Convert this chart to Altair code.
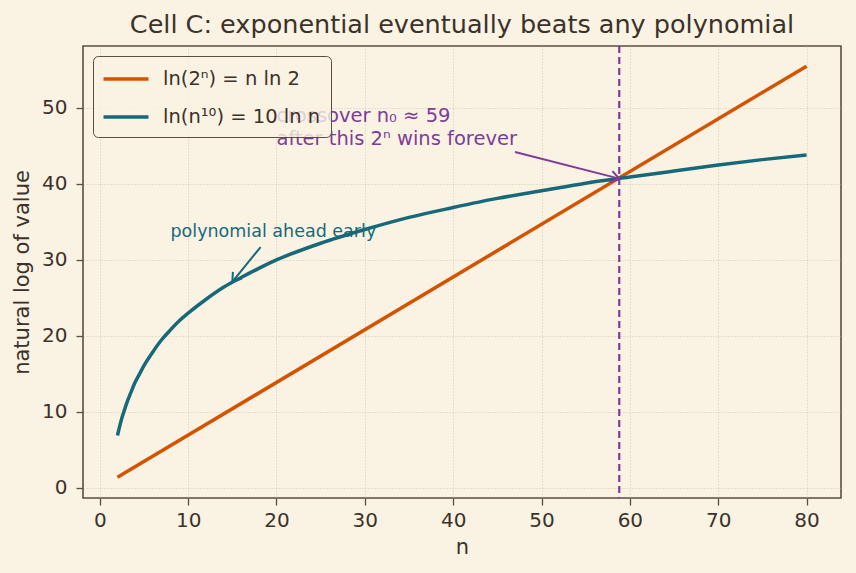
import altair as alt
import pandas as pd

# ---- data ----
series_names = ["ln(2ⁿ) = n ln 2", "ln(n¹⁰) = 10 ln n"]
n_exp = [2, 80]
exp_vals = [1.4, 55.5]
n_poly = [2, 2.25, 2.5, 2.75, 3, 3.5, 4, 4.5, 5, 6, 7, 8, 9, 10, 12, 14, 16, 18, 20,
          25, 30, 35, 40, 45, 50, 55, 60, 65, 70, 75, 80]
poly_vals = [6.9, 8.1, 9.2, 10.1, 11.0, 12.5, 13.9, 15.0, 16.1, 17.9, 19.5, 20.8, 22.0, 23.0,
             24.8, 26.4, 27.7, 28.9, 30.0, 32.2, 34.0, 35.6, 36.9, 38.1, 39.1, 40.1, 40.9,
             41.7, 42.5, 43.2, 43.8]
n0 = 58.8
cross_y = 40.7

ann_text = ["polynomial ahead early", "crossover  n₀ ≈ 59", "after this 2ⁿ wins forever"]
ann_x = [8, 20, 20]
ann_y = [33, 48.2, 45.1]
ann_kind = ["poly", "cross", "cross"]

arrow_x = [18.2, 47.0]
arrow_y = [31.7, 44.2]
arrow_x2 = [15.0, n0]
arrow_y2 = [27.1, cross_y]
arrow_angle = [217, 104]
arrow_kind = ["poly", "cross"]

BG = "#faf3e4"
FRAME = "#5a4e40"
TEXT = "#3b3229"
ORANGE = "#d35400"
TEAL = "#17697a"
PURPLE = "#7d3c98"
FONT = "DejaVu Sans"

lines = pd.DataFrame(
    {"n": n_exp + n_poly,
     "v": exp_vals + poly_vals,
     "series": [series_names[0]] * len(n_exp) + [series_names[1]] * len(n_poly)}
)
ann = pd.DataFrame({"x": ann_x, "y": ann_y, "t": ann_text, "k": ann_kind})
arr = pd.DataFrame({"x": arrow_x, "y": arrow_y, "x2": arrow_x2, "y2": arrow_y2,
                    "a": arrow_angle, "k": arrow_kind})
vline = pd.DataFrame({"n": [n0]})

xs = alt.Scale(domain=[-1.9, 83.9], nice=False, zero=False)
ys = alt.Scale(domain=[-1.32, 58.15], nice=False, zero=False)
kcol = alt.Scale(domain=["poly", "cross"], range=[TEAL, PURPLE])

base_line = alt.Chart(lines).mark_line(strokeWidth=3.5, interpolate="monotone").encode(
    x=alt.X("n:Q", scale=xs, title="n",
            axis=alt.Axis(values=[0, 10, 20, 30, 40, 50, 60, 70, 80])),
    y=alt.Y("v:Q", scale=ys, title="natural log of value",
            axis=alt.Axis(values=[0, 10, 20, 30, 40, 50])),
    color=alt.Color("series:N",
                    scale=alt.Scale(domain=series_names, range=[ORANGE, TEAL]),
                    legend=alt.Legend(title=None, orient="none", legendX=10, legendY=10,
                                      symbolType="M -2 0 L 2 0", symbolStrokeWidth=3.5,
                                      symbolSize=506, symbolOffset=10,
                                      labelFontSize=19.5, labelColor=TEXT,
                                      labelFont=FONT, padding=10, rowPadding=15,
                                      fillColor="rgba(250,243,228,0.8)", strokeColor=FRAME,
                                      cornerRadius=5, labelOffset=24)),
)

rule = alt.Chart(vline).mark_rule(color=PURPLE, strokeWidth=2.2, strokeDash=[7, 4]).encode(
    x=alt.X("n:Q", scale=xs)
)

texts = alt.Chart(ann).mark_text(align="left", baseline="alphabetic", font=FONT).encode(
    x=alt.X("x:Q", scale=xs), y=alt.Y("y:Q", scale=ys), text="t:N",
    color=alt.Color("k:N", scale=kcol, legend=None),
    size=alt.Size("k:N", scale=alt.Scale(domain=["poly", "cross"], range=[17.5, 19.5]), legend=None),
)

shafts = alt.Chart(arr).mark_rule(strokeWidth=2).encode(
    x=alt.X("x:Q", scale=xs), y=alt.Y("y:Q", scale=ys),
    x2="x2:Q", y2="y2:Q",
    color=alt.Color("k:N", scale=kcol, legend=None),
)

heads = alt.Chart(arr).mark_point(shape="M -0.6 0.9 L 0 0 L 0.6 0.9", filled=False,
                                  strokeWidth=2, size=350, opacity=1).encode(
    x=alt.X("x2:Q", scale=xs), y=alt.Y("y2:Q", scale=ys),
    angle=alt.Angle("a:Q", scale=None),
    color=alt.Color("k:N", scale=kcol, legend=None),
)

chart = alt.layer(rule, base_line, shafts, heads, texts).resolve_scale(
    color="independent", size="independent"
).properties(
    width=758, height=452,
    title=alt.Title("Cell C: exponential eventually beats any polynomial",
                    fontSize=25.5, font=FONT, color=TEXT, fontWeight="normal",
                    anchor="middle", frame="group", offset=6),
    background=BG,
    padding={"left": 83, "top": 46, "right": 15, "bottom": 75},
    autosize=alt.AutoSizeParams(type="none"),
).configure_view(
    stroke=FRAME, strokeWidth=1.6, fill=BG
).configure_axis(
    grid=True, gridColor="#c8bca6", gridDash=[1, 2], gridWidth=0.8,
    domain=False, tickColor=FRAME, tickSize=7, tickWidth=1.3,
    labelFont=FONT, labelFontSize=20, labelColor=TEXT, labelPadding=5,
    titleFont=FONT, titleFontSize=21, titleColor=TEXT, titleFontWeight="normal",
).configure_axisX(titlePadding=6).configure_axisY(titlePadding=9, labelPadding=9)

chart.save("out.html", embed_options={"renderer": "svg", "actions": False})
